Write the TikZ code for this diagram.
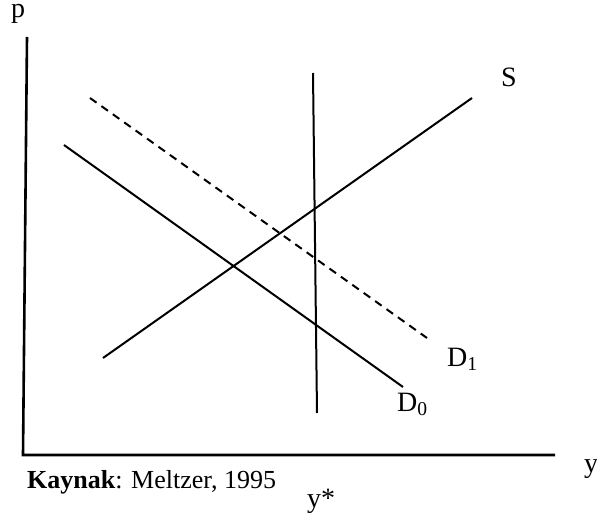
\documentclass[tikz,border=0pt]{standalone}
\usepackage{fontspec}
\setmainfont{Liberation Serif}
\begin{document}
\begin{tikzpicture}[x=1pt,y=-1pt,
  lbl/.style={anchor=base west,inner sep=0pt,font=\fontsize{28}{32}\selectfont},
  srclbl/.style={anchor=base west,inner sep=0pt,font=\fontsize{26}{30}\selectfont},
  axisline/.style={line width=2.6pt},
  curve/.style={line width=2pt},
  dashcurve/.style={line width=2pt,dash pattern=on 8pt off 6pt}]
\useasboundingbox (0,0) rectangle (597,521);
% axes
\coordinate (ytop) at (27,37);
\coordinate (orig) at (23,455);
\coordinate (xend) at (555,455);
\draw[axisline] (ytop) -- (orig) -- (xend);
% vertical y* line
\coordinate (vt) at (313,73);
\coordinate (vb) at (317,413);
\draw[curve] (vt) -- (vb);
% supply
\coordinate (s0) at (103,358);
\coordinate (s1) at (472,98);
\draw[curve] (s0) -- (s1);
% demand D0
\coordinate (d00) at (64,145);
\coordinate (d01) at (403,387);
\draw[curve] (d00) -- (d01);
% demand D1 dashed
\coordinate (d10) at (90,98);
\coordinate (d11) at (427,338);
\draw[dashcurve] (d10) -- (d11);
% labels
\node[lbl] (lp) at (11,18) {p};
\node[lbl] (lS) at (501,87) {S};
\node[lbl] (lD1) at (447,366) {D\textsubscript{1}};
\node[lbl] (lD0) at (397,411) {D\textsubscript{0}};
\node[lbl] (ly) at (584,472) {y};
\node[lbl] (ys) at (307,507) {y*};
\node[srclbl] (src) at (27,488) {\textbf{Kaynak}: Meltzer, 1995};
\end{tikzpicture}
\end{document}
